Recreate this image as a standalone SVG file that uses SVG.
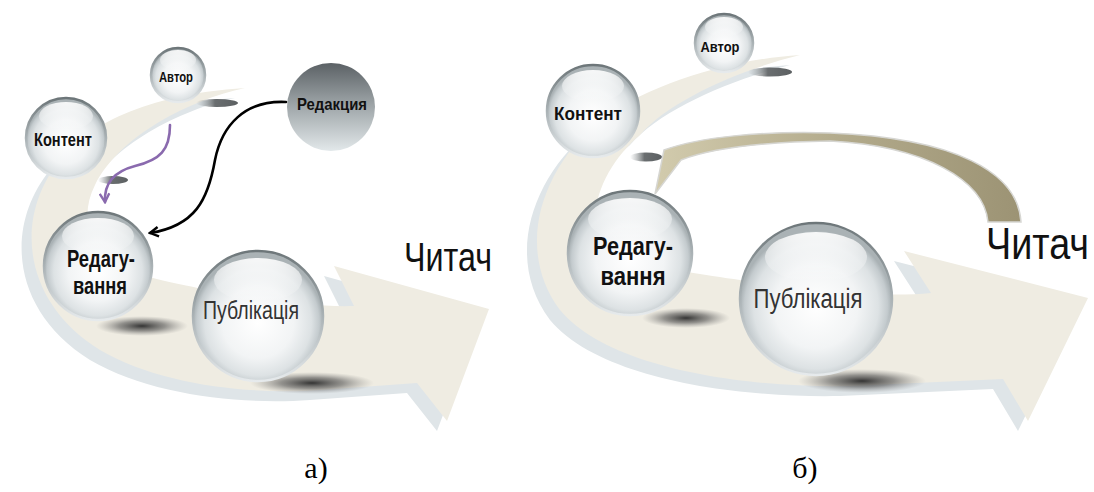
<svg xmlns="http://www.w3.org/2000/svg" width="1094" height="492" viewBox="0 0 1094 492">
  <style>
    .bold { font-family: "Liberation Sans", Arial, sans-serif; font-weight: bold; fill: #111; text-anchor: middle; }
    .reg { font-family: "Liberation Sans", Arial, sans-serif; fill: #333; text-anchor: middle; }
    .reader { font-family: "Liberation Sans", Arial, sans-serif; fill: #111; }
    .cap { font-family: "Liberation Serif", "Times New Roman", serif; fill: #000; font-size: 30px; text-anchor: middle; }
    .sphere { fill: url(#sph); stroke: url(#rim); stroke-width: 2.5; }
    .gloss { fill: url(#glossG); }
    .band-back { fill: #dfe5e8; }
    .band { fill: #efece2; }
    .shadow { fill: url(#shad); }
    .blob { fill: url(#blobG); }
    .conn { fill: none; stroke-width: 2.6; stroke-linecap: round; }
  </style>
  <defs>
    <radialGradient id="sph" cx="0.5" cy="0.55" r="0.5">
      <stop offset="0" stop-color="#ffffff"/>
      <stop offset="0.55" stop-color="#f2f4f5"/>
      <stop offset="0.82" stop-color="#dde2e4"/>
      <stop offset="0.94" stop-color="#c4cbce"/>
      <stop offset="1" stop-color="#aab2b5"/>
    </radialGradient>
    <linearGradient id="rim" x1="0" y1="0" x2="0" y2="1">
      <stop offset="0" stop-color="#6d7679"/>
      <stop offset="0.5" stop-color="#aab2b5"/>
      <stop offset="1" stop-color="#e6eaec"/>
    </linearGradient>
    <linearGradient id="glossG" x1="0" y1="0" x2="0" y2="1">
      <stop offset="0" stop-color="#ffffff" stop-opacity="0.9"/>
      <stop offset="1" stop-color="#ffffff" stop-opacity="0"/>
    </linearGradient>
    <linearGradient id="redG" x1="0" y1="0" x2="0" y2="1">
      <stop offset="0" stop-color="#5b6165"/>
      <stop offset="0.45" stop-color="#9aa1a4"/>
      <stop offset="1" stop-color="#e2e8ea"/>
    </linearGradient>
    <radialGradient id="shad" cx="0.5" cy="0.5" r="0.5">
      <stop offset="0" stop-color="#2a2a2a" stop-opacity="0.95"/>
      <stop offset="0.5" stop-color="#555" stop-opacity="0.6"/>
      <stop offset="1" stop-color="#888" stop-opacity="0"/>
    </radialGradient>
    <linearGradient id="blobG" x1="0" y1="0" x2="1" y2="0">
      <stop offset="0" stop-color="#9aa0a2" stop-opacity="0"/>
      <stop offset="0.45" stop-color="#6a6e70"/>
      <stop offset="1" stop-color="#5c6062"/>
    </linearGradient>
    <linearGradient id="brownG" gradientUnits="userSpaceOnUse" x1="655" y1="0" x2="1021" y2="0">
      <stop offset="0" stop-color="#d2cbad"/>
      <stop offset="0.5" stop-color="#b3ab8c"/>
      <stop offset="1" stop-color="#9c9374"/>
    </linearGradient>
    <marker id="arrBlack" viewBox="0 0 10 10" refX="8" refY="5" markerWidth="12" markerHeight="12" markerUnits="userSpaceOnUse" orient="auto">
      <path d="M1,1 L8,5 L1,9" fill="none" stroke="#000" stroke-width="2"/>
    </marker>
    <marker id="arrPurple" viewBox="0 0 10 10" refX="8" refY="5" markerWidth="12" markerHeight="12" markerUnits="userSpaceOnUse" orient="auto">
      <path d="M1,1 L8,5 L1,9" fill="none" stroke="#8a6aae" stroke-width="2"/>
    </marker>
  </defs>

  <!-- Panel a: swoosh -->
  <g id="swoosh-a">
    <path class="band-back" transform="translate(-10,10)" d="M245,88 C180,92 100,110 60,160 C15,215 20,300 100,350 C160,385 250,395 320,390 L417,383 L447,421 L489,309 L334,266 L354,306 C300,308 200,290 153,278 C95,265 75,225 95,185 C120,135 190,100 245,88 Z"/>
    <path class="band" d="M245,88 C180,92 100,110 60,160 C15,215 20,300 100,350 C160,385 250,395 320,390 L417,383 L447,421 L489,309 L334,266 L354,306 C300,308 200,290 153,278 C95,265 75,225 95,185 C120,135 190,100 245,88 Z"/>
    <ellipse class="blob" cx="217" cy="103" rx="21" ry="4"/>
    <ellipse class="blob" cx="113" cy="180" rx="15" ry="4"/>
    <ellipse class="shadow" cx="142" cy="326" rx="46" ry="10"/>
    <ellipse class="shadow" cx="312" cy="383" rx="62" ry="11"/>
  </g>

  <!-- Panel b: swoosh -->
  <g id="swoosh-b">
    <path class="band-back" transform="translate(-10,10)" d="M800,55 C720,60 640,90 600,120 C540,170 515,250 560,310 C610,370 750,388 850,386 L1003,379 L1028,421 L1088,298 L904,251 L931,293 C880,298 800,290 740,280 C700,274 620,265 600,240 C585,205 610,160 640,135 C670,100 740,70 800,55 Z"/>
    <path class="band" d="M800,55 C720,60 640,90 600,120 C540,170 515,250 560,310 C610,370 750,388 850,386 L1003,379 L1028,421 L1088,298 L904,251 L931,293 C880,298 800,290 740,280 C700,274 620,265 600,240 C585,205 610,160 640,135 C670,100 740,70 800,55 Z"/>
    <ellipse class="blob" cx="770" cy="72" rx="22" ry="4.5"/>
    <ellipse class="blob" cx="646" cy="157" rx="16" ry="4.5"/>
    <ellipse class="shadow" cx="686" cy="318" rx="44" ry="10"/>
    <ellipse class="shadow" cx="862" cy="381" rx="64" ry="12"/>
  </g>

  <!-- Panel a nodes -->
  <g id="avtor-a">
    <circle class="sphere" cx="178" cy="75" r="27"/>
    <ellipse class="gloss" cx="178" cy="60" rx="18" ry="10"/>
    <text class="bold" x="176" y="82" font-size="14" textLength="34" lengthAdjust="spacingAndGlyphs">Автор</text>
  </g>
  <g id="kontent-a">
    <circle class="sphere" cx="66" cy="138" r="40"/>
    <ellipse class="gloss" cx="66" cy="116" rx="27" ry="14"/>
    <text class="bold" x="63" y="146" font-size="18" textLength="58" lengthAdjust="spacingAndGlyphs">Контент</text>
  </g>
  <g id="redakcia-a">
    <circle cx="331" cy="107" r="44" fill="url(#redG)"/>
    <text class="bold" x="332" y="110" font-size="17" textLength="70" lengthAdjust="spacingAndGlyphs">Редакция</text>
  </g>
  <g id="redaguvannia-a">
    <circle class="sphere" cx="98" cy="266" r="54"/>
    <ellipse class="gloss" cx="98" cy="236" rx="36" ry="18"/>
    <text class="bold" x="101" y="267" font-size="23" textLength="68" lengthAdjust="spacingAndGlyphs">Редагу-</text>
    <text class="bold" x="100" y="294" font-size="23" textLength="54" lengthAdjust="spacingAndGlyphs">вання</text>
  </g>
  <g id="publikacia-a">
    <circle class="sphere" cx="258" cy="316" r="65"/>
    <ellipse class="gloss" cx="258" cy="280" rx="44" ry="22"/>
    <text class="reg" x="251" y="319" font-size="25" textLength="96" lengthAdjust="spacingAndGlyphs">Публікація</text>
  </g>
  <g id="chytach-a">
    <text class="reader" x="404" y="271" font-size="41" textLength="88" lengthAdjust="spacingAndGlyphs">Читач</text>
  </g>

  <!-- Panel b nodes -->
  <g id="return-arrow-b">
    <path d="M1021,222 C1018,172 955,138 830,133 C760,131 700,137 664,150 L655,194 L681,160 C712,148 765,142 830,141 C925,146 984,180 988,222 Z" fill="url(#brownG)" stroke="#d6d6d2" stroke-width="1.5"/>
  </g>
  <g id="avtor-b">
    <circle class="sphere" cx="724" cy="43" r="29"/>
    <ellipse class="gloss" cx="724" cy="27" rx="19" ry="10"/>
    <text class="bold" x="720" y="52" font-size="14" textLength="39" lengthAdjust="spacingAndGlyphs">Автор</text>
  </g>
  <g id="kontent-b">
    <circle class="sphere" cx="593" cy="111" r="46"/>
    <ellipse class="gloss" cx="593" cy="86" rx="31" ry="16"/>
    <text class="bold" x="588" y="120" font-size="19" textLength="68" lengthAdjust="spacingAndGlyphs">Контент</text>
  </g>
  <g id="redaguvannia-b">
    <circle class="sphere" cx="630" cy="253" r="62"/>
    <ellipse class="gloss" cx="630" cy="219" rx="42" ry="21"/>
    <text class="bold" x="633" y="255" font-size="25" textLength="80" lengthAdjust="spacingAndGlyphs">Редагу-</text>
    <text class="bold" x="633" y="285" font-size="25" textLength="65" lengthAdjust="spacingAndGlyphs">вання</text>
  </g>
  <g id="publikacia-b">
    <circle class="sphere" cx="816" cy="299" r="76"/>
    <ellipse class="gloss" cx="816" cy="257" rx="51" ry="25"/>
    <text class="reg" x="808" y="308" font-size="27" textLength="109" lengthAdjust="spacingAndGlyphs">Публікація</text>
  </g>
  <g id="chytach-b">
    <text class="reader" transform="matrix(0.84 0 0 1 986 259)" x="0" y="0" font-size="45">Читач</text>
  </g>

  <!-- Connectors (panel a) -->
  <g id="connectors">
    <path class="conn" stroke="#000" marker-end="url(#arrBlack)" d="M286,102 C245,100 222,125 215,160 C208,200 195,226 150,233"/>
    <path class="conn" stroke="#8a6aae" marker-end="url(#arrPurple)" d="M170,125 C170,150 160,160 135,166 C112,172 104,185 105,202"/>
  </g>

  <!-- Captions -->
  <text class="cap" x="316" y="478">а)</text>
  <text class="cap" x="805" y="478">б)</text>
</svg>
